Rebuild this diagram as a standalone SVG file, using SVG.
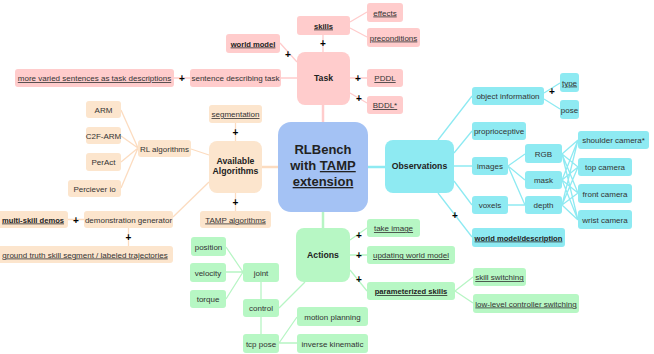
<svg xmlns="http://www.w3.org/2000/svg" width="654" height="354" viewBox="0 0 654 354">
  <style>
    text { font-family: "Liberation Sans", Arial, sans-serif; font-size: 8px; fill: #333; text-anchor: middle; }
    .b { font-weight: bold; font-size: 7.6px; fill: #222; }
    .h { font-weight: bold; font-size: 8.7px; fill: #222; }
    .c { font-weight: bold; font-size: 13px; fill: #222; }
    .u { text-decoration: underline; }
    .plus { font-weight: bold; font-size: 10px; fill: #000; }
    .pk { fill: #ffcccc; }
    .or { fill: #fce5cd; }
    .cy { fill: #8eeaf2; }
    .gr { fill: #b7f7c4; }
    .e { fill: none; stroke-width: 1.3; }
    .epk { stroke: #ffcccc; }
    .eor { stroke: #fcdcc0; }
    .ecy { stroke: #8eeaf2; }
    .egr { stroke: #b7f5c4; }
    .main { stroke-width: 2.5; }
  </style>

  <!-- connectors -->
  <g id="connectors">
    <!-- task branch -->
    <path class="e epk main" d="M323 105 V122"/>
    <path class="e epk" d="M323 35 V52 M350 22 L367 12 M350 28 L367 37 M280 43 L297 62 M281 78 H297 M174 78 H190 M350 78 H367 M350 93 L367 103"/>
    <!-- algorithms branch -->
    <path class="e eor main" d="M262 167 H278"/>
    <path class="e eor" d="M235.5 123 V141 M235.5 193 V211 M191 149 L209 155 M138 148 L121 110 M138 148 L121 136 M138 148 L121 162 M138 148 L121 188 M173 217 L209 182 M68 219.5 H84 M128.5 228 V246"/>
    <!-- observations branch -->
    <path class="e ecy main" d="M368 167 H385"/>
    <path class="e ecy" d="M438 140 L472 96 M454 153 L472 131 M454 166 H472 M454 181 L472 205 M438 193 L472 237 M544 93 L560 83 M544 99 L560 109 M508 166 L525 154 M508 166 L525 180 M508 166 L525 205 M508 205 H525"/>
    <path class="e ecy" d="M562 154 L578 140 M562 154 L578 167 M562 154 L578 193 M562 154 L578 220 M562 180 L578 140 M562 180 L578 167 M562 180 L578 193 M562 180 L578 220 M562 205 L578 140 M562 205 L578 167 M562 205 L578 193 M562 205 L578 220"/>
    <!-- actions branch -->
    <path class="e egr main" d="M323 212 V228"/>
    <path class="e egr" d="M350 240 L367 228 M350 255 H367 M350 270 L367 291 M455 291 L473 277 M455 291 L473 303 M305 282 L279 308 M261 282 V299 M261 317 V334 M243 272 L226 247 M243 272 H226 M243 272 L226 299 M279 343 L297 317 M279 343 H297"/>
    <!-- plus markers -->
    <text class="plus" x="182" y="81.5">+</text>
    <text class="plus" x="323" y="46.5">+</text>
    <text class="plus" x="288" y="57.5">+</text>
    <text class="plus" x="358" y="81.5">+</text>
    <text class="plus" x="359" y="101.5">+</text>
    <text class="plus" x="235.5" y="135.5">+</text>
    <text class="plus" x="235.5" y="205.5">+</text>
    <text class="plus" x="76" y="223.5">+</text>
    <text class="plus" x="128.5" y="240.5">+</text>
    <text class="plus" x="552" y="94.5">+</text>
    <text class="plus" x="455" y="218.5">+</text>
    <text class="plus" x="359" y="238.5">+</text>
    <text class="plus" x="359" y="258.5">+</text>
    <text class="plus" x="359" y="282.5">+</text>
  </g>

  <!-- central node -->
  <g id="rlbench">
    <rect x="278" y="122" width="90" height="90" rx="13" fill="#a4c2f4"/>
    <text class="c" x="323" y="154">RLBench</text>
    <text class="c" x="323" y="170">with <tspan class="u">TAMP</tspan></text>
    <text class="c u" x="323" y="186">extension</text>
  </g>

  <!-- task -->
  <g id="task"><rect class="pk" x="297" y="52" width="53" height="53" rx="8"/><text class="h" x="323.5" y="81">Task</text></g>
  <g id="skills"><rect class="pk" x="297" y="16" width="53" height="19" rx="3"/><text class="b u" x="323.5" y="28.5">skills</text></g>
  <g id="effects"><rect class="pk" x="367" y="3" width="36" height="19" rx="3"/><text class="u" x="385" y="15.5">effects</text></g>
  <g id="preconditions"><rect class="pk" x="367" y="28" width="53" height="19" rx="3"/><text class="u" x="393.5" y="40.5">preconditions</text></g>
  <g id="world-model"><rect class="pk" x="226" y="34" width="54" height="19" rx="3"/><text class="b u" x="253" y="46.5">world model</text></g>
  <g id="sentence"><rect class="pk" x="190" y="69" width="91" height="18" rx="3"/><text x="235.5" y="81">sentence describing task</text></g>
  <g id="varied-sentences"><rect class="pk" x="15" y="69" width="159" height="18" rx="3"/><text class="u" x="94.5" y="81">more varied sentences as task descriptions</text></g>
  <g id="pddl"><rect class="pk" x="367" y="69" width="36" height="18" rx="3"/><text class="u" x="385" y="81">PDDL</text></g>
  <g id="bddl"><rect class="pk" x="367" y="96" width="36" height="18" rx="3"/><text class="u" x="385" y="108">BDDL*</text></g>

  <!-- available algorithms -->
  <g id="algorithms"><rect class="or" x="209" y="141" width="53" height="52" rx="8"/><text class="h" x="235.5" y="164">Available</text><text class="h" x="235.5" y="174">Algorithms</text></g>
  <g id="segmentation"><rect class="or" x="209" y="105" width="53" height="18" rx="3"/><text class="u" x="235.5" y="117">segmentation</text></g>
  <g id="tamp-algorithms"><rect class="or" x="200" y="211" width="71" height="17" rx="3"/><text class="u" x="235.5" y="222.5">TAMP algorithms</text></g>
  <g id="rl-algorithms"><rect class="or" x="138" y="140" width="53" height="17" rx="3"/><text x="164.5" y="151.5">RL algorithms</text></g>
  <g id="arm"><rect class="or" x="86" y="101" width="35" height="17" rx="3"/><text x="103.5" y="112.5">ARM</text></g>
  <g id="c2f-arm"><rect class="or" x="86" y="127" width="35" height="17" rx="3"/><text x="103.5" y="138.5">C2F-ARM</text></g>
  <g id="peract"><rect class="or" x="86" y="153" width="35" height="18" rx="3"/><text x="103.5" y="165">PerAct</text></g>
  <g id="perciever"><rect class="or" x="68" y="180" width="53" height="17" rx="3"/><text x="94.5" y="191.5">Perciever io</text></g>
  <g id="demo-generator"><rect class="or" x="84" y="211" width="89" height="17" rx="3"/><text x="128.5" y="222.5">demonstration generator</text></g>
  <g id="multi-skill"><rect class="or" x="-3" y="211" width="71" height="17" rx="3"/><text class="b u" x="33" y="222.5">multi-skill demos</text></g>
  <g id="ground-truth"><rect class="or" x="-3" y="246" width="176" height="17" rx="3"/><text class="u" x="85" y="257.5">ground truth skill segment / labeled trajectories</text></g>

  <!-- observations -->
  <g id="observations"><rect class="cy" x="385" y="140" width="69" height="53" rx="8"/><text class="h" x="419.5" y="169">Observations</text></g>
  <g id="object-info"><rect class="cy" x="472" y="87" width="72" height="18" rx="3"/><text x="508" y="99">object information</text></g>
  <g id="type"><rect class="cy" x="560" y="73" width="19" height="19" rx="3"/><text class="u" x="569.5" y="85.5">type</text></g>
  <g id="pose"><rect class="cy" x="560" y="100" width="19" height="19" rx="3"/><text x="569.5" y="112.5">pose</text></g>
  <g id="proprioceptive"><rect class="cy" x="472" y="122" width="54" height="18" rx="3"/><text x="499" y="134">proprioceptive</text></g>
  <g id="images"><rect class="cy" x="472" y="157" width="36" height="18" rx="3"/><text x="490" y="169">images</text></g>
  <g id="rgb"><rect class="cy" x="525" y="144" width="37" height="19" rx="3"/><text x="543.5" y="156.5">RGB</text></g>
  <g id="mask"><rect class="cy" x="525" y="171" width="37" height="18" rx="3"/><text x="543.5" y="183">mask</text></g>
  <g id="depth"><rect class="cy" x="525" y="196" width="37" height="18" rx="3"/><text x="543.5" y="208">depth</text></g>
  <g id="voxels"><rect class="cy" x="472" y="196" width="36" height="18" rx="3"/><text x="490" y="208">voxels</text></g>
  <g id="world-description"><rect class="cy" x="472" y="228" width="93" height="19" rx="3"/><text class="b u" x="518.5" y="240.5">world model/description</text></g>
  <g id="shoulder-camera"><rect class="cy" x="578" y="131" width="71" height="18" rx="3"/><text x="613.5" y="143">shoulder camera*</text></g>
  <g id="top-camera"><rect class="cy" x="578" y="158" width="54" height="18" rx="3"/><text x="605" y="170">top camera</text></g>
  <g id="front-camera"><rect class="cy" x="578" y="184" width="54" height="19" rx="3"/><text x="605" y="196.5">front camera</text></g>
  <g id="wrist-camera"><rect class="cy" x="578" y="210" width="54" height="19" rx="3"/><text x="605" y="222.5">wrist camera</text></g>

  <!-- actions -->
  <g id="actions"><rect class="gr" x="296" y="228" width="54" height="54" rx="8"/><text class="h" x="323" y="258">Actions</text></g>
  <g id="take-image"><rect class="gr" x="367" y="219" width="53" height="18" rx="3"/><text class="u" x="393.5" y="231">take image</text></g>
  <g id="updating-world-model"><rect class="gr" x="367" y="246" width="88" height="18" rx="3"/><text class="u" x="411" y="258">updating world model</text></g>
  <g id="parameterized-skills"><rect class="gr" x="367" y="282" width="88" height="18" rx="3"/><text class="b u" x="411" y="294">parameterized skills</text></g>
  <g id="skill-switching"><rect class="gr" x="473" y="268" width="53" height="18" rx="3"/><text class="u" x="499.5" y="280">skill switching</text></g>
  <g id="controller-switching"><rect class="gr" x="473" y="294" width="106" height="19" rx="3"/><text class="u" x="526" y="306.5">low-level controller switching</text></g>
  <g id="position"><rect class="gr" x="191" y="237" width="35" height="19" rx="3"/><text x="208.5" y="249.5">position</text></g>
  <g id="velocity"><rect class="gr" x="190" y="263" width="36" height="19" rx="3"/><text x="208" y="275.5">velocity</text></g>
  <g id="torque"><rect class="gr" x="190" y="290" width="36" height="18" rx="3"/><text x="208" y="302">torque</text></g>
  <g id="joint"><rect class="gr" x="243" y="263" width="36" height="19" rx="3"/><text x="261" y="275.5">joint</text></g>
  <g id="control"><rect class="gr" x="243" y="299" width="36" height="18" rx="3"/><text x="261" y="311">control</text></g>
  <g id="tcp-pose"><rect class="gr" x="243" y="334" width="36" height="19" rx="3"/><text x="261" y="346.5">tcp pose</text></g>
  <g id="motion-planning"><rect class="gr" x="297" y="307" width="71" height="19" rx="3"/><text x="332.5" y="319.5">motion planning</text></g>
  <g id="inverse-kinematic"><rect class="gr" x="297" y="334" width="71" height="19" rx="3"/><text x="332.5" y="346.5">inverse kinematic</text></g>
</svg>
